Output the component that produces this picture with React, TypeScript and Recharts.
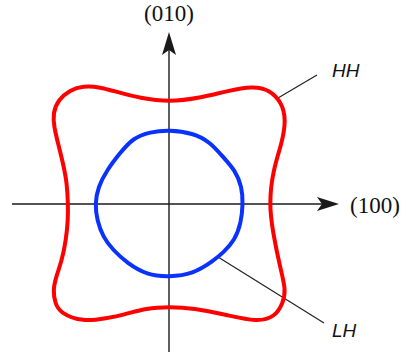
import { LineChart, Line, XAxis, YAxis, ReferenceLine, ReferenceDot } from "recharts"

// constant-energy contours, coordinates relative to the origin (y up)
const hhX = [100, 104, 113, 117, 113, 101, 84, 58, 31, 0, -29, -52, -69, -86, -99, -111, -116, -115, -111, -106, -102, -101, -101, -103, -107, -113, -116, -114, -109, -86, -62, -46, -22, 0, 24, 58, 88, 106, 114, 117, 111, 104]
const hhY = [0, 34, 61, 84, 101, 114, 118, 113, 106, 102, 106, 112, 117, 118, 114, 104, 91, 77, 61, 41, 21, 0, -16, -36, -56, -73, -86, -99, -109, -118, -114, -111, -104, -103, -104, -111, -118, -113, -99, -86, -63, -29]

const lhX = [74, 73, 66, 54, 41, 24, 0, -19, -36, -49, -62, -71, -74, -72, -66, -56, -42, -22, 0, 24, 44, 54, 66, 72]
const lhY = [0, 17, 34, 47, 62, 71, 74, 72, 66, 51, 34, 17, 0, -16, -33, -46, -59, -71, -73, -70, -57, -49, -36, -19]

const hhData = hhX.map((x, i) => ({ x, y: hhY[i] }))
const lhData = lhX.map((x, i) => ({ x, y: lhY[i] }))

const axisColor = "#1a1a1a"

function arrowRight(p: any) {
  const { cx, cy } = p
  return <polygon points={`${cx},${cy} ${cx - 22},${cy - 7} ${cx - 17},${cy} ${cx - 22},${cy + 7}`} fill={axisColor} />
}

function arrowUp(p: any) {
  const { cx, cy } = p
  return <polygon points={`${cx},${cy} ${cx - 7},${cy + 23} ${cx},${cy + 18} ${cx + 7},${cy + 23}`} fill={axisColor} />
}

function label(text: string, opts: { anchor?: string; serif?: boolean }) {
  return (p: any) => (
    <text
      x={p.cx}
      y={p.cy}
      textAnchor={opts.anchor || "start"}
      fontFamily={opts.serif ? "'Liberation Serif', serif" : "'Liberation Sans', sans-serif"}
      fontStyle={opts.serif ? "normal" : "italic"}
      fontSize={opts.serif ? 23 : 19}
      fill="#111"
    >
      {text}
    </text>
  )
}

export default function App() {
  return (
    <div style={{ position: "absolute", left: 0, top: 0, background: "#fff" }}>
      <LineChart width={403} height={356} margin={{ top: 0, right: 0, bottom: 0, left: 0 }}>
        <XAxis dataKey="x" type="number" domain={[-169, 234]} hide allowDataOverflow />
        <YAxis type="number" domain={[-152, 204]} hide allowDataOverflow />

        <ReferenceLine segment={[{ x: -157, y: 0 }, { x: 160, y: 0 }]} stroke={axisColor} strokeWidth={1.4} ifOverflow="visible" />
        <ReferenceLine segment={[{ x: 0, y: -148 }, { x: 0, y: 160 }]} stroke={axisColor} strokeWidth={1.4} ifOverflow="visible" />
        <ReferenceDot x={170} y={0} shape={arrowRight} ifOverflow="visible" />
        <ReferenceDot x={0} y={172} shape={arrowUp} ifOverflow="visible" />

        {/* leader lines to the band labels */}
        <ReferenceLine segment={[{ x: 109, y: 106 }, { x: 148, y: 129 }]} stroke="#222" strokeWidth={1.2} ifOverflow="visible" />
        <ReferenceLine segment={[{ x: 49, y: -53 }, { x: 155, y: -119 }]} stroke="#222" strokeWidth={1.2} ifOverflow="visible" />

        <Line data={hhData} dataKey="y" type="basisClosed" stroke="#ff0000" strokeWidth={4} dot={false} activeDot={false} isAnimationActive={false} />
        <Line data={lhData} dataKey="y" type="basisClosed" stroke="#0a32ff" strokeWidth={4} dot={false} activeDot={false} isAnimationActive={false} />

        <ReferenceDot x={0} y={183} shape={label("(010)", { anchor: "middle", serif: true })} ifOverflow="visible" />
        <ReferenceDot x={181} y={-9} shape={label("(100)", { serif: true })} ifOverflow="visible" />
        <ReferenceDot x={163} y={127} shape={label("HH", {})} ifOverflow="visible" />
        <ReferenceDot x={163} y={-133} shape={label("LH", {})} ifOverflow="visible" />
      </LineChart>
    </div>
  )
}
